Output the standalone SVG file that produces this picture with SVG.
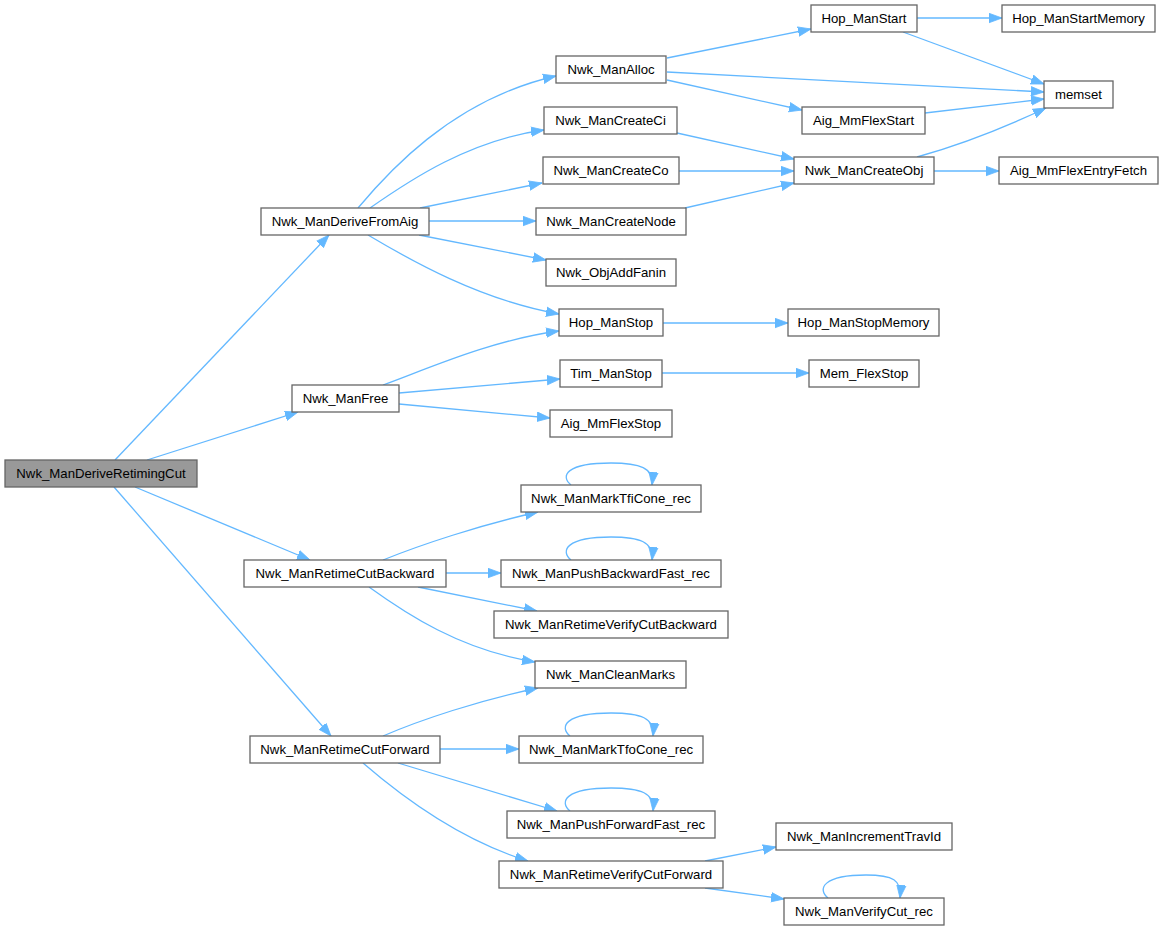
<svg xmlns="http://www.w3.org/2000/svg" width="1163" height="931" viewBox="0 0 1163 931">
<style>
.n rect{fill:#fff;stroke:#666;stroke-width:1.3}
.n.root rect{fill:#999}
.n text{font-family:"Liberation Sans",Arial,sans-serif;font-size:13.2px;fill:#000;text-anchor:middle}
.e path{fill:none;stroke:#63b8ff;stroke-width:1.3;marker-end:url(#ah)}
</style>
<defs>
<marker id="ah" markerUnits="userSpaceOnUse" markerWidth="14" markerHeight="11" refX="13" refY="4.75" orient="auto" viewBox="0 0 14 9.5">
<path d="M0,0 L13,4.75 L0,9.5 z" fill="#63b8ff" stroke="#63b8ff" stroke-width="0.8"/>
</marker>
</defs>
<rect width="1163" height="931" fill="#fff"/>
<g id="connectors" class="e">
<path d="M115,460 L329,235"/>
<path d="M147,460 L298,412"/>
<path d="M135,487 L310,560"/>
<path d="M114,487 L331,736"/>
<path d="M358,208 C384,177 450,100 556,76"/>
<path d="M370,208 C410,180 470,140 544,130"/>
<path d="M420,208 L542,183"/>
<path d="M429,221 L536,221"/>
<path d="M419,235 L546,260"/>
<path d="M368,235 C410,260 480,300 559,314"/>
<path d="M383,385 C420,372 490,340 559,331"/>
<path d="M399,393 L560,379"/>
<path d="M399,404 L550,418"/>
<path d="M667,58 L811,29"/>
<path d="M667,72 L1044,92"/>
<path d="M667,80 L802,110"/>
<path d="M917,18 L1002,18"/>
<path d="M903,32 L1044,84"/>
<path d="M925,113 L1044,99"/>
<path d="M917,157 C960,145 1010,125 1046,108"/>
<path d="M934,171 L999,171"/>
<path d="M677,133 L794,159"/>
<path d="M679,171 L794,171"/>
<path d="M685,208 L794,183"/>
<path d="M663,323 L788,323"/>
<path d="M662,373 L809,373"/>
<path d="M383,560 C420,545 480,525 538,512"/>
<path d="M446,573 L501,573"/>
<path d="M418,587 L537,611"/>
<path d="M369,587 C405,613 460,650 535,662"/>
<path d="M383,736 C420,720 480,700 538,688"/>
<path d="M440,749 L519,749"/>
<path d="M398,763 L557,811"/>
<path d="M363,763 C400,795 460,840 528,861"/>
<path d="M705,861 L776,847"/>
<path d="M705,888 L784,899"/>
<path d="M571,485 C560,476 566,463 611,463 C640,463 654,468 652,485"/>
<path d="M571,560 C560,551 566,537 611,537 C640,537 654,542 652,560"/>
<path d="M570,736 C559,727 565,713 611,713 C641,713 655,718 653,736"/>
<path d="M570,811 C559,802 565,788 611,788 C641,788 655,793 653,811"/>
<path d="M828,898 C817,889 823,875 866,875 C893,875 902,880 900,898"/>
</g>
<g id="n_root" class="n root"><rect x="5" y="460" width="192" height="27"/><text x="101" y="478">Nwk_ManDeriveRetimingCut</text></g>
<g id="n_fromaig" class="n"><rect x="261" y="208" width="168" height="27"/><text x="345" y="226">Nwk_ManDeriveFromAig</text></g>
<g id="n_free" class="n"><rect x="292" y="385" width="107" height="27"/><text x="345.5" y="403">Nwk_ManFree</text></g>
<g id="n_backward" class="n"><rect x="244" y="560" width="202" height="27"/><text x="345" y="578">Nwk_ManRetimeCutBackward</text></g>
<g id="n_forward" class="n"><rect x="250" y="736" width="190" height="27"/><text x="345" y="754">Nwk_ManRetimeCutForward</text></g>
<g id="n_alloc" class="n"><rect x="556" y="56" width="110" height="27"/><text x="611" y="74">Nwk_ManAlloc</text></g>
<g id="n_ci" class="n"><rect x="544" y="107" width="133" height="27"/><text x="610.5" y="125">Nwk_ManCreateCi</text></g>
<g id="n_co" class="n"><rect x="543" y="157" width="136" height="27"/><text x="611" y="175">Nwk_ManCreateCo</text></g>
<g id="n_node" class="n"><rect x="536" y="208" width="150" height="27"/><text x="611" y="226">Nwk_ManCreateNode</text></g>
<g id="n_fanin" class="n"><rect x="546" y="259" width="130" height="27"/><text x="611" y="277">Nwk_ObjAddFanin</text></g>
<g id="n_hopstop" class="n"><rect x="559" y="309" width="104" height="27"/><text x="611" y="327">Hop_ManStop</text></g>
<g id="n_timstop" class="n"><rect x="560" y="360" width="102" height="27"/><text x="611" y="378">Tim_ManStop</text></g>
<g id="n_flexstop" class="n"><rect x="550" y="410" width="122" height="27"/><text x="611" y="428">Aig_MmFlexStop</text></g>
<g id="n_tfi" class="n"><rect x="521" y="485" width="180" height="27"/><text x="611" y="503">Nwk_ManMarkTfiCone_rec</text></g>
<g id="n_pushback" class="n"><rect x="501" y="560" width="220" height="27"/><text x="611" y="578">Nwk_ManPushBackwardFast_rec</text></g>
<g id="n_verback" class="n"><rect x="494" y="611" width="234" height="27"/><text x="611" y="629">Nwk_ManRetimeVerifyCutBackward</text></g>
<g id="n_clean" class="n"><rect x="535" y="661" width="151" height="27"/><text x="610.5" y="679">Nwk_ManCleanMarks</text></g>
<g id="n_tfo" class="n"><rect x="519" y="736" width="184" height="27"/><text x="611" y="754">Nwk_ManMarkTfoCone_rec</text></g>
<g id="n_pushfwd" class="n"><rect x="507" y="811" width="208" height="27"/><text x="611" y="829">Nwk_ManPushForwardFast_rec</text></g>
<g id="n_verfwd" class="n"><rect x="499" y="861" width="224" height="27"/><text x="611" y="879">Nwk_ManRetimeVerifyCutForward</text></g>
<g id="n_trav" class="n"><rect x="776" y="823" width="176" height="27"/><text x="864" y="841">Nwk_ManIncrementTravId</text></g>
<g id="n_vcut" class="n"><rect x="784" y="898" width="160" height="27"/><text x="864" y="916">Nwk_ManVerifyCut_rec</text></g>
<g id="n_hopstart" class="n"><rect x="811" y="5" width="106" height="27"/><text x="864" y="23">Hop_ManStart</text></g>
<g id="n_startmem" class="n"><rect x="1002" y="5" width="153" height="27"/><text x="1078.5" y="23">Hop_ManStartMemory</text></g>
<g id="n_memset" class="n"><rect x="1044" y="81" width="69" height="27"/><text x="1078.5" y="99">memset</text></g>
<g id="n_flexstart" class="n"><rect x="802" y="107" width="123" height="27"/><text x="863.5" y="125">Aig_MmFlexStart</text></g>
<g id="n_createobj" class="n"><rect x="794" y="157" width="140" height="27"/><text x="864" y="175">Nwk_ManCreateObj</text></g>
<g id="n_fetch" class="n"><rect x="999" y="157" width="159" height="27"/><text x="1078.5" y="175">Aig_MmFlexEntryFetch</text></g>
<g id="n_stopmem" class="n"><rect x="788" y="309" width="151" height="27"/><text x="863.5" y="327">Hop_ManStopMemory</text></g>
<g id="n_memflexstop" class="n"><rect x="809" y="360" width="110" height="27"/><text x="864" y="378">Mem_FlexStop</text></g>
</svg>
